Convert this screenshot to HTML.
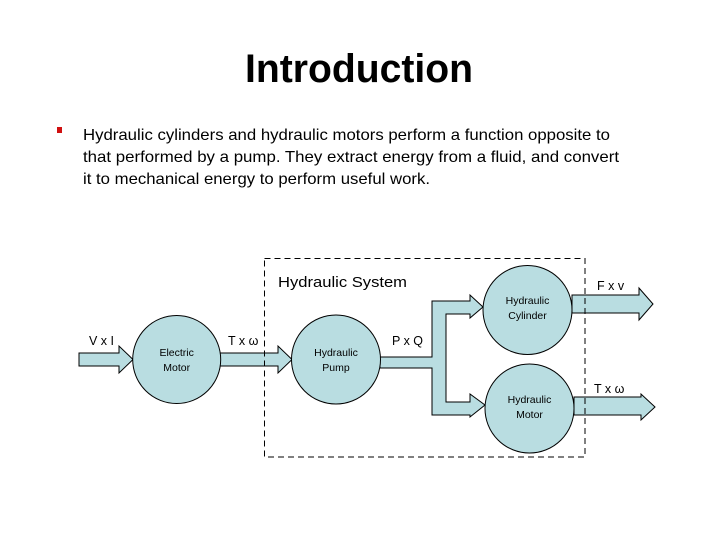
<!DOCTYPE html>
<html><head><meta charset="utf-8"><style>
html,body{margin:0;padding:0;background:#fff;}
svg{display:block;}
text{font-family:"Liberation Sans",sans-serif;}
</style></head><body>
<svg width="720" height="540" viewBox="0 0 720 540" xmlns="http://www.w3.org/2000/svg">
<rect width="720" height="540" fill="#fff"/>
<text x="359" y="82" font-size="40" font-weight="bold" text-anchor="middle" textLength="228" lengthAdjust="spacingAndGlyphs">Introduction</text>
<rect x="57" y="127" width="5" height="6" fill="#d01010"/>
<g font-size="16">
<text x="83" y="140" textLength="527" lengthAdjust="spacingAndGlyphs">Hydraulic cylinders and hydraulic motors perform a function opposite to</text>
<text x="83" y="162" textLength="536" lengthAdjust="spacingAndGlyphs">that performed by a pump.  They extract energy from a fluid, and convert</text>
<text x="83" y="184" textLength="347" lengthAdjust="spacingAndGlyphs">it to mechanical energy to perform useful work.</text>
</g>
<g fill="#b9dde1" stroke="#000" stroke-width="1">
<!-- V x I arrow -->
<polygon points="79,353 119,353 119,346 133,359.5 119,373 119,366 79,366"/>
<!-- T x w arrow -->
<polygon points="220,353 278,353 278,346 292,359.5 278,373 278,366 220,366"/>
<!-- P x Q branch -->
<polygon points="380,357 432,357 432,301 470,301 470,295 483,307 470,318 470,314 446,314 446,402 470,402 470,394 485,405 470,417 470,415 432,415 432,368 380,368"/>
<!-- F x v arrow -->
<polygon points="572,295 639,295 639,288 653,304 639,320 639,313 572,313"/>
<!-- T x w right arrow -->
<polygon points="574,397 641,397 641,394 655,407 641,420 641,415 574,415"/>
<circle cx="176.7" cy="359.5" r="44"/>
<circle cx="336" cy="359.5" r="44.5"/>
<circle cx="527.5" cy="310" r="44.5"/>
<circle cx="529.5" cy="408.5" r="44.5"/>
</g>
<rect x="264.5" y="258.5" width="320.5" height="198.5" fill="none" stroke="#000" stroke-width="1" stroke-dasharray="6,4"/>
<text x="278" y="287" font-size="14.5" textLength="129" lengthAdjust="spacingAndGlyphs">Hydraulic System</text>
<g font-size="10.5" text-anchor="middle">
<text x="176.7" y="356">Electric</text><text x="176.7" y="371">Motor</text>
<text x="336" y="356">Hydraulic</text><text x="336" y="371">Pump</text>
<text x="527.5" y="304">Hydraulic</text><text x="527.5" y="319">Cylinder</text>
<text x="529.5" y="403">Hydraulic</text><text x="529.5" y="418">Motor</text>
</g>
<g font-size="12.5">
<text x="89" y="345">V x I</text>
<text x="228" y="345">T x ω</text>
<text x="392" y="345">P x Q</text>
<text x="597" y="290">F x v</text>
<text x="594" y="393">T x ω</text>
</g>
</svg>
</body></html>
